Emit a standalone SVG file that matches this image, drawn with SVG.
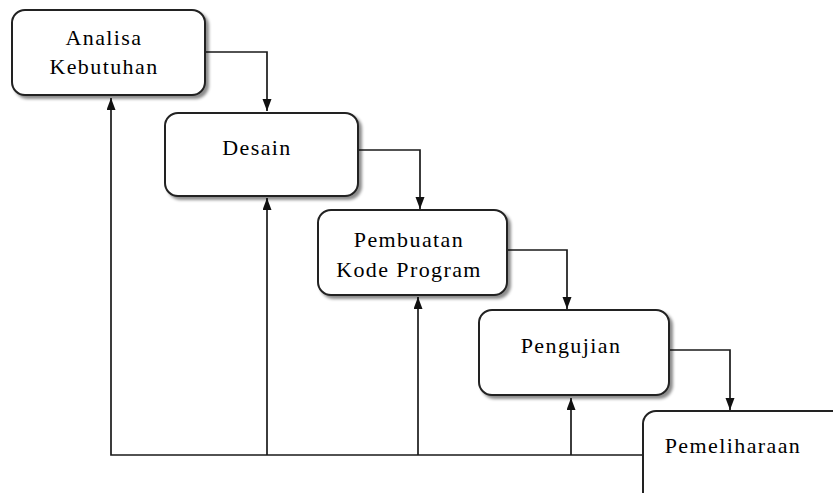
<svg xmlns="http://www.w3.org/2000/svg" width="833" height="493" viewBox="0 0 833 493">
  <style>
    .box { fill: #ffffff; stroke: #222222; stroke-width: 2; filter: url(#shadow); }
    .lbl { font-family: 'Liberation Serif', 'DejaVu Serif', serif; font-size: 22px; fill: #000000; text-anchor: middle; letter-spacing: 1.4px; }
    .con { fill: none; stroke: #1a1a1a; stroke-width: 1.7; }
  </style>
  <defs>
    <filter id="shadow" x="-10%" y="-10%" width="130%" height="140%">
      <feDropShadow dx="3" dy="3" stdDeviation="1.8" flood-color="#000000" flood-opacity="0.45"/>
    </filter>
    <marker id="arr" markerUnits="userSpaceOnUse" markerWidth="12" markerHeight="10" refX="12" refY="4.5" orient="auto">
      <path d="M0,0 L12,4.5 L0,9 z" fill="#111111"/>
    </marker>
  </defs>
  <rect width="833" height="493" fill="#ffffff"/>

  <g id="connectors">
    <path class="con" d="M205,52 H267 V111" marker-end="url(#arr)"/>
    <path class="con" d="M358,150 H420 V209" marker-end="url(#arr)"/>
    <path class="con" d="M507,250 H567 V309" marker-end="url(#arr)"/>
    <path class="con" d="M669,350 H730 V410" marker-end="url(#arr)"/>
    <path class="con" d="M643,455 H111 V98" marker-end="url(#arr)"/>
    <path class="con" d="M267,455 V198" marker-end="url(#arr)"/>
    <path class="con" d="M418,455 V297" marker-end="url(#arr)"/>
    <path class="con" d="M571,455 V398" marker-end="url(#arr)"/>
  </g>

  <g id="analisa-kebutuhan">
    <rect class="box" x="12" y="10" width="193" height="85" rx="13"/>
    <text class="lbl" font-family="Liberation Serif, serif" x="104" y="45">Analisa</text>
    <text class="lbl" font-family="Liberation Serif, serif" x="104" y="74">Kebutuhan</text>
  </g>
  <g id="desain">
    <rect class="box" x="165" y="113" width="193" height="83" rx="13"/>
    <text class="lbl" font-family="Liberation Serif, serif" x="257" y="155">Desain</text>
  </g>
  <g id="pembuatan-kode-program">
    <rect class="box" x="318" y="210" width="189" height="85" rx="13"/>
    <text class="lbl" font-family="Liberation Serif, serif" x="409" y="247">Pembuatan</text>
    <text class="lbl" font-family="Liberation Serif, serif" x="409" y="277">Kode Program</text>
  </g>
  <g id="pengujian">
    <rect class="box" x="479" y="310" width="190" height="85" rx="13"/>
    <text class="lbl" font-family="Liberation Serif, serif" x="571" y="353">Pengujian</text>
  </g>
  <g id="pemeliharaan">
    <rect class="box" x="643" y="411" width="210" height="100" rx="13"/>
    <text class="lbl" font-family="Liberation Serif, serif" x="733" y="453">Pemeliharaan</text>
  </g>
</svg>
